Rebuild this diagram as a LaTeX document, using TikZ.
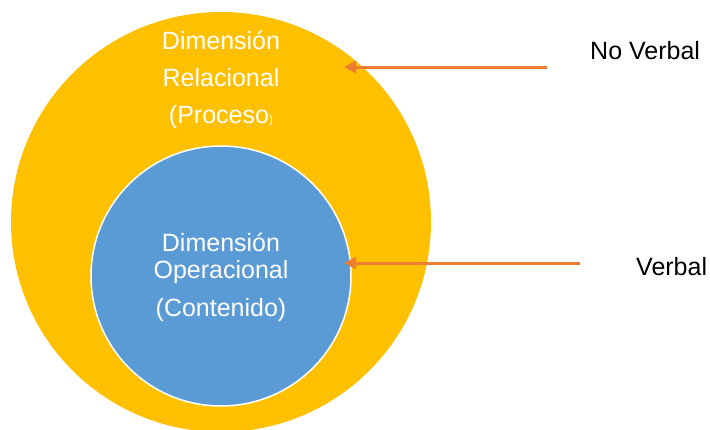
\documentclass[tikz,border=0pt]{standalone}
\usepackage{fontspec}
\setmainfont{Liberation Sans}
\usetikzlibrary{arrows.meta}
\definecolor{ringyellow}{HTML}{FFC000}
\definecolor{coreblue}{HTML}{5B9BD5}
\definecolor{pointer}{HTML}{ED7D31}
\begin{document}
\begin{tikzpicture}[x=1pt,y=-1pt,
  disc/.style={circle,inner sep=0pt,outer sep=0pt},
  inlabel/.style={text=white,align=center,inner sep=0pt,font=\fontsize{25}{37}\selectfont},
  sidelabel/.style={text=black,inner sep=0pt,font=\fontsize{25}{30}\selectfont},
  pointerline/.style={draw=pointer,line width=3pt,-{Triangle[length=12pt,width=12pt]}}]
  \useasboundingbox (0,0) rectangle (710,429);
  \clip (0,0) rectangle (710,429);
  % the two nested dimensions
  \node[disc,fill=ringyellow,minimum size=420pt] (outer) at (221,222) {};
  \node[disc,fill=coreblue,draw=white,line width=1.5pt,minimum size=260pt] (inner) at (221,276) {};
  % circle captions
  \node[inlabel] (outerText) at (221,80)
    {Dimensión\\Relacional\\(Proceso{\fontsize{12}{12}\selectfont)}};
  \node[inlabel,font=\fontsize{25}{27}\selectfont] (innerText) at (221,277)
    {Dimensión\\Operacional\\[11pt](Contenido)};
  % side labels
  \node[sidelabel,anchor=west] (noVerbal) at (590,51) {No Verbal};
  \node[sidelabel,anchor=west] (verbal) at (636,267) {Verbal};
  % pointers
  \coordinate (nvStart) at (547,67);
  \coordinate (nvTip) at (344,67);
  \coordinate (vStart) at (580,263);
  \coordinate (vTip) at (344,263);
  \draw[pointerline] (nvStart) -- (nvTip);
  \draw[pointerline] (vStart) -- (vTip);
\end{tikzpicture}
\end{document}
